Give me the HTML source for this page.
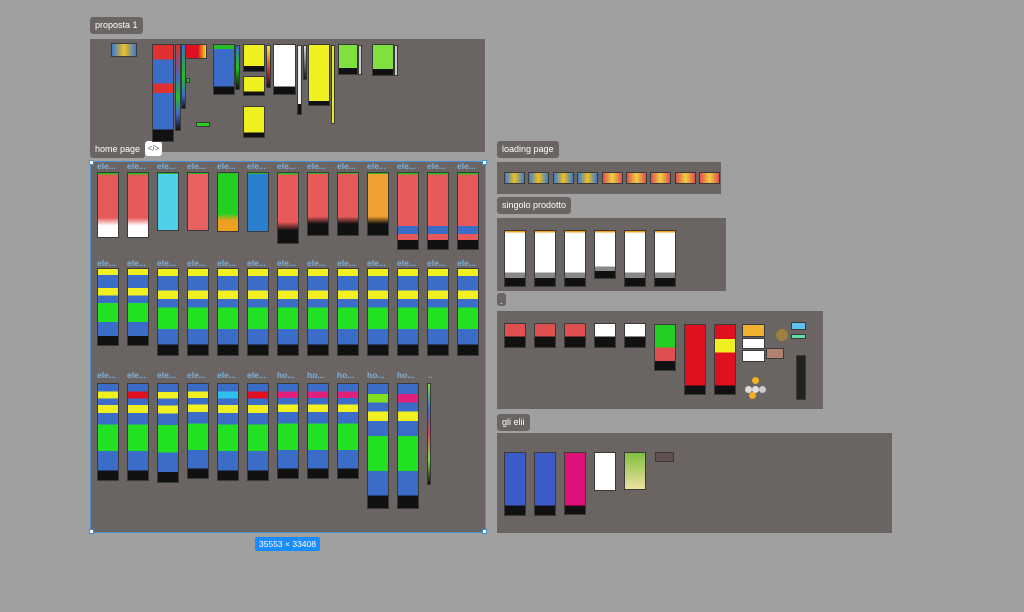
<!DOCTYPE html>
<html><head><meta charset="utf-8"><style>
*{margin:0;padding:0;box-sizing:border-box}
body{width:1024px;height:612px;background:#a0a0a0;position:relative;overflow:hidden;font-family:"Liberation Sans",sans-serif}
.f{position:absolute;background:#6a6563}
.l{position:absolute;background:#6a6563;color:#fff;font-size:9px;height:17px;line-height:17px;padding:0 5px;border-radius:3px}
.t{position:absolute;border:1px solid #3a3a3a}
.lb{position:absolute;color:#7fb0d8;font-size:8.5px;font-weight:bold}
</style></head><body>
<div class="l" style="left:90px;top:17px">proposta 1</div>
<div class="f" style="left:90px;top:39px;width:395px;height:113px"></div>
<div class="l" style="left:90px;top:141px">home page</div>
<div style="position:absolute;left:145px;top:141px;width:17px;height:15px;background:#fff;border-radius:3px;font-size:8px;text-align:center;line-height:15px;color:#555">&lt;/&gt;</div>
<div class="f" style="left:90px;top:161px;width:396px;height:372px;border:1px solid #4a90d0"></div>
<div class="l" style="left:497px;top:141px">loading page</div>
<div class="f" style="left:497px;top:162px;width:224px;height:32px"></div>
<div class="l" style="left:497px;top:197px">singolo prodotto</div>
<div class="f" style="left:497px;top:218px;width:229px;height:73px"></div>
<div class="l" style="left:497px;top:293px;padding:0 3px;height:13px">.</div>
<div class="f" style="left:497px;top:311px;width:326px;height:98px"></div>
<div class="l" style="left:497px;top:414px">gli elii</div>
<div class="f" style="left:497px;top:433px;width:395px;height:100px"></div>
<div style="position:absolute;left:255px;top:537px;width:65px;height:14px;background:#1a8cff;color:#fff;font-size:8.5px;text-align:center;line-height:14px;border-radius:2px">35553 × 33408</div>
<div id="c"></div>
<script>
var c=document.getElementById('c'),h='';
function T(x,y,w,hh,bg){h+='<div class="t" style="left:'+x+'px;top:'+y+'px;width:'+w+'px;height:'+hh+'px;background:'+bg+'"></div>';}
function L(x,y,s){h+='<div class="lb" style="left:'+x+'px;top:'+y+'px">'+s+'</div>';}
[[90,161],[483,161],[90,530],[483,530]].forEach(function(p){h+='<div style="position:absolute;left:'+(p[0]-1)+'px;top:'+(p[1]-1)+'px;width:5px;height:5px;background:#fff;border:1px solid #4a90d0"></div>';});
// proposta
T(111,43,26,14,'linear-gradient(90deg,#3a7ad0,#f0c020,#3a7ad0)');
T(152,44,22,98,'linear-gradient(#e03030 0 15%,#3b6cc8 15% 40%,#e03030 40% 50%,#3b6cc8 50% 88%,#111 88%)');
T(175,44,6,87,'linear-gradient(#e03030,#3b6cc8 40%,#22c022 60%,#3b6cc8 80%,#111)');
T(181,44,5,65,'linear-gradient(#3b6cc8,#22c022 50%,#3b6cc8 80%,#111)');
T(186,78,4,5,'#22c022');
T(185,44,22,15,'linear-gradient(90deg,#e01020 60%,#f0e020)');
T(196,122,14,5,'#22d022');
T(213,44,22,51,'linear-gradient(#22c022 0 8%,#3b6cc8 8% 85%,#111 85%)');
T(235,45,5,45,'linear-gradient(#3b6cc8,#22c022,#111)');
T(243,44,22,28,'linear-gradient(#f0f020 0 80%,#111 80%)');
T(243,76,22,20,'linear-gradient(#f0f020 0 80%,#111 80%)');
T(243,106,22,32,'linear-gradient(#f0f020 0 85%,#111 85%)');
T(266,45,5,43,'linear-gradient(#f0f020,#d03030 60%,#111)');
T(273,44,23,51,'linear-gradient(#fff 0 85%,#111 85%)');
T(297,45,5,70,'linear-gradient(#eee 0 85%,#111 85%)');
T(303,45,4,35,'linear-gradient(#ddd,#111)');
T(308,44,22,62,'linear-gradient(#f0f020 0 93%,#111 93%)');
T(331,45,4,79,'#e8e820');
T(338,44,20,31,'linear-gradient(#80e040 0 80%,#111 80%)');
T(358,45,4,30,'#ccc');
T(372,44,22,32,'linear-gradient(#80e040 0 80%,#111 80%)');
T(394,45,4,31,'#ccc');
// home rows
var xs=[97,127,157,187,217,247,277,307,337,367,397,427,457];
var r1=[['#e85a5a','#fff',263,1],['#e85a5a','#fff',263,1],['#50d0e8','#50d0e8',243,0],['#e86060','#e86060',243,0],['#22d022','#f0a020',247,0],['#2a80d0','#2a80d0',247,0],['#e85a5a','#111',282,1],['#e85a5a','#111',258,1],['#e85a5a','#111',258,1],['#f0a030','#111',258,1],['#e85a5a','#111',300,1],['#e85a5a','#111',300,1],['#e85a5a','#111',300,1]];
xs.forEach(function(x,i){var r=r1[i];L(x,161,'ele...');var hh=(r[2]/3+150)-172;
T(x,172,22,hh,'linear-gradient(#22c022 0 2%,'+r[0]+' 2% 70%,'+(i>=10?'#3b6cc8 70% 80%,#e85a5a 80% 88%,':'')+r[1]+' 82%)');});
var h2=[350,350,355,355,355,355,355,355,355,355,355,355,355];
xs.forEach(function(x,i){L(x,258,'ele...');var top=268,b=(i<2?(360+585/3):(360+600/3-8));b=i<2?346:356;
T(x,top,22,b-top,'linear-gradient(#f0f020 0 8%,#3b6cc8 8% 25%,#f0f020 25% 35%,#3b6cc8 35% 45%,#22e022 45% 70%,#3b6cc8 70% 88%,#111 88%)');});
var lab3=['ele...','ele...','ele...','ele...','ele...','ele...','ho...','ho...','ho...','ho...','ho...'];
var b3=[481,481,483,479,481,481,479,479,479,509,509];
var mid=['#f0f020','#e01020','#f0f020','#f0f020','#30c0f0','#e01020','#e0207a','#e0207a','#e0207a','#80e020','#e0207a'];
for(var i=0;i<11;i++){var x=xs[i];L(x,370,lab3[i]);
T(x,383,22,b3[i]-383,'linear-gradient(#3b6cc8 0 8%,'+mid[i]+' 8% 15%,#3b6cc8 15% 22%,#f0f020 22% 30%,#3b6cc8 30% 42%,#22e022 42% 70%,#3b6cc8 70% 90%,#111 90%)');}
L(428,370,'..');T(427,383,4,102,'linear-gradient(#80e040,#3b6cc8,#e04060,#80e040,#111)');
// loading
for(var i=0;i<9;i++){T(504+i*24.4,172,21,12,i<4?'linear-gradient(90deg,#3a7ad0,#f0c020,#3a7ad0)':'linear-gradient(90deg,#e05050,#f0d040,#e05050)');}
// singolo
for(var i=0;i<6;i++){var bb=i==3?279:287;T(504+i*30,230,22,bb-230,'linear-gradient(#f0a020 0 3%,#fff 3% 75%,#888 75% 85%,#111 85%)');}
// frame 4
for(var i=0;i<5;i++){T(504+i*30,323,22,25,'linear-gradient('+(i<3?'#e05050':'#fff')+' 0 55%,#111 55%)');}
T(654,324,22,47,'linear-gradient(#22d022 0 50%,#e05050 50% 80%,#111 80%)');
T(684,324,22,71,'linear-gradient(#e01020 0 88%,#111 88%)');
T(714,324,22,71,'linear-gradient(#e01020 0 20%,#f0f020 20% 40%,#e01020 40% 88%,#111 88%)');
T(742,324,23,13,'#f0b030');T(742,338,23,11,'#fff');T(742,350,23,12,'#fff');
T(766,348,18,11,'#b08070');T(791,322,15,8,'#60c0f0');T(791,334,15,5,'#60e0a0');
T(796,355,10,45,'#222');
h+='<div style="position:absolute;left:776px;top:329px;width:12px;height:12px;border-radius:6px;background:#a08040"></div>';
[[745,386,'#ddd'],[752,386,'#ddd'],[759,386,'#ccc'],[749,392,'#f0b020'],[752,377,'#f0b020']].forEach(function(p){h+='<div style="position:absolute;left:'+p[0]+'px;top:'+p[1]+'px;width:7px;height:7px;border-radius:4px;background:'+p[2]+'"></div>';});
// gli elii
T(504,452,22,64,'linear-gradient(#3b5cc8 0 85%,#111 85%)');
T(534,452,22,64,'linear-gradient(#3b5cc8 0 85%,#111 85%)');
T(564,452,22,63,'linear-gradient(#e0107a 0 86%,#111 86%)');
T(594,452,22,39,'#fff');
T(624,452,22,38,'linear-gradient(#80c040,#f0e0a0)');
T(655,452,19,10,'#605050');
c.innerHTML=h;
</script>
</body></html>
